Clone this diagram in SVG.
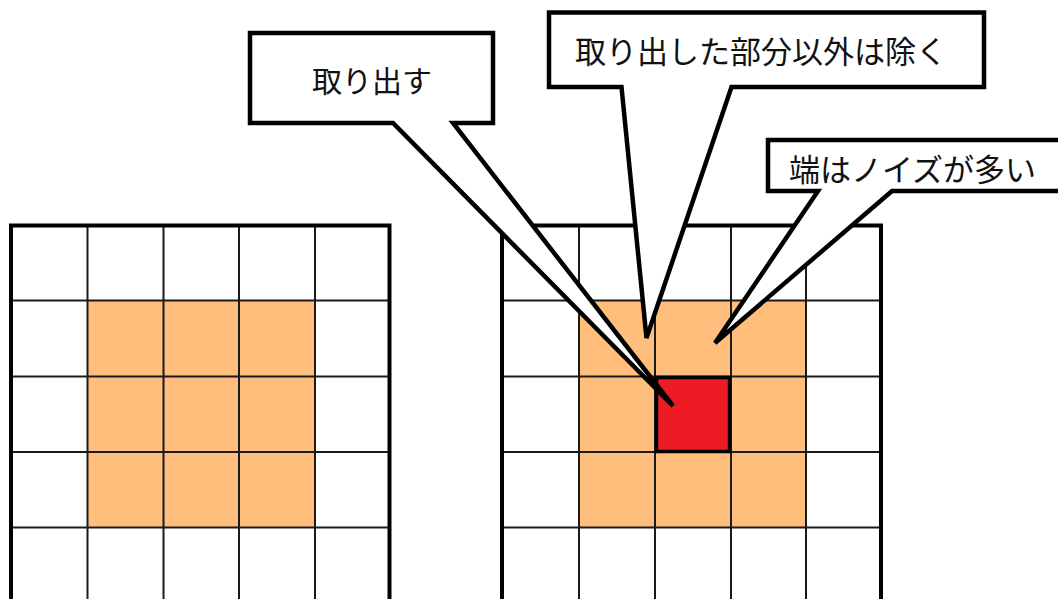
<svg xmlns="http://www.w3.org/2000/svg" width="1058" height="599" viewBox="0 0 1058 599">
<style>
.cell{fill:#FFBE7C;}
.thin{stroke:#1a1a1a;stroke-width:2;fill:none;}
.outer{stroke:#000;stroke-width:4;fill:none;}
.callout{fill:#fff;stroke:#000;stroke-width:4.5;stroke-linejoin:miter;}
.lbl{font-family:"Noto Sans CJK JP","Noto Sans CJK SC",sans-serif;font-size:30px;fill:#111;}
</style>
<rect x="0" y="0" width="1058" height="599" fill="#fff"/>
<g id="grid-left">
<rect class="cell" x="87.5" y="300.5" width="227.5" height="227"/>
<path class="thin" d="M87.5,225.5V610M163.5,225.5V610M239,225.5V610M315,225.5V610M11,300.5H389.5M11,376.5H389.5M11,452H389.5M11,527.5H389.5"/>
<path class="outer" d="M11,610V225.5H389.5V610"/>
</g>
<g id="grid-right">
<rect class="cell" x="579" y="300.5" width="227" height="227"/>
<path class="thin" d="M579,225.5V610M655,225.5V610M731,225.5V610M806,225.5V610M502,300.5H881M502,376.5H881M502,452H881M502,527.5H881"/>
<path class="outer" d="M502,610V225.5H881V610"/>
</g>
<g id="selected-cell">
<rect x="656.5" y="377.5" width="73" height="74" fill="#ED1C24" stroke="#000" stroke-width="3.5"/>
</g>
<g id="connectors">
<g id="callout-extract">
<path class="callout" d="M250,33H493V123H453L673,406L393,123H250Z"/>
<text class="lbl" x="372" y="92" text-anchor="middle">取り出す</text>
</g>
<g id="callout-remove">
<path class="callout" d="M549,12.5H984V87H731.5L646.5,338L621.5,87H549Z"/>
<text class="lbl" x="575" y="63" font-size="31" style="font-size:31px">取り出した部分以外は除く</text>
</g>
<g id="callout-noise">
<path class="callout" d="M768,140H1070V191H892L715,343L818,191H768Z"/>
<text class="lbl" x="789" y="181" style="font-size:31px">端はノイズが多い</text>
</g>
</g>
</svg>
